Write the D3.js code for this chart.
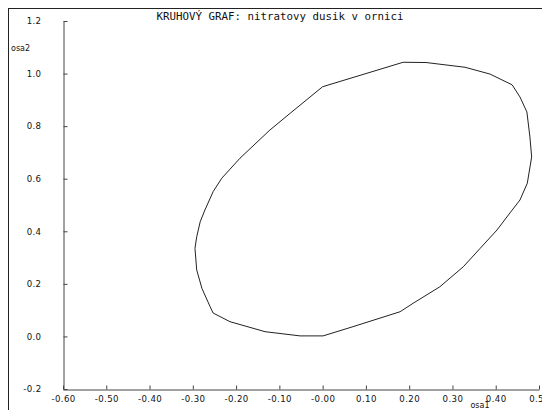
<!DOCTYPE html>
<html>
<head>
<meta charset="utf-8">
<script src="https://cdn.jsdelivr.net/npm/d3@7"></script>
<style>
  html, body { margin: 0; padding: 0; background: #fff; overflow: hidden; }
  svg { display: block; }
  .tick text { font-family: "DejaVu Sans", Verdana, sans-serif; font-size: 8.6px; letter-spacing: 0.4px; fill: #111; }
</style>
</head>
<body>
<svg id="chart" width="542" height="410"></svg>
<script>
// Closed outline (osa1, osa2), traced clockwise from the top-left corner
const osa1 = [0.00, 0.186, 0.239, 0.329, 0.387, 0.438, 0.456, 0.472, 0.479, 0.483,
              0.473, 0.456, 0.433, 0.403, 0.364, 0.325, 0.271, 0.209, 0.179, 0.070,
              0.001, -0.052, -0.133, -0.214, -0.253, -0.260, -0.279, -0.291, -0.295, -0.291,
              -0.283, -0.272, -0.253, -0.233, -0.191, -0.122, -0.075];
const osa2 = [0.950, 1.043, 1.042, 1.024, 0.998, 0.957, 0.911, 0.854, 0.759, 0.683,
              0.583, 0.519, 0.470, 0.405, 0.335, 0.265, 0.189, 0.126, 0.094, 0.037,
              0.002, 0.002, 0.018, 0.056, 0.089, 0.113, 0.183, 0.253, 0.335, 0.379,
              0.436, 0.481, 0.551, 0.602, 0.678, 0.785, 0.849];

const xTicks = [-0.6, -0.5, -0.4, -0.3, -0.2, -0.1, 0.0, 0.1, 0.2, 0.3, 0.4, 0.5];
const xTickLabels = ["-0.60", "-0.50", "-0.40", "-0.30", "-0.20", "-0.10", "-0.00",
                     "0.10", "0.20", "0.30", "0.40", "0.50"];
const yTicks = [1.2, 1.0, 0.8, 0.6, 0.4, 0.2, 0.0, -0.2];
const yTickLabels = ["1.2", "1.0", "0.8", "0.6", "0.4", "0.2", "0.0", "-0.2"];

const title = "KRUHOVÝ GRAF: nitratovy dusik v ornici";
const xName = "osa1";
const yName = "osa2";

const svg = d3.select("#chart");

// frame around the drawing area
svg.append("rect")
  .attr("x", 8.5).attr("y", 8.5)
  .attr("width", 600).attr("height", 500)
  .attr("fill", "none").attr("stroke", "#222").attr("stroke-width", 1);

const x = d3.scaleLinear().domain([-0.6, 0.5]).range([63, 539]);
const y = d3.scaleLinear().domain([-0.2, 1.2]).range([389, 21]);

// y axis, ticks pointing inward
const yAxis = svg.append("g")
  .attr("transform", "translate(63.5,0)")
  .call(d3.axisLeft(y)
    .tickValues(yTicks)
    .tickFormat((d, i) => yTickLabels[i])
    .tickSizeInner(-4).tickSizeOuter(0).tickPadding(22));

// x axis, ticks pointing inward
const xAxis = svg.append("g")
  .attr("transform", "translate(0,389.5)")
  .call(d3.axisBottom(x)
    .tickValues(xTicks)
    .tickFormat((d, i) => xTickLabels[i])
    .tickSizeInner(-4).tickSizeOuter(0).tickPadding(6));

[yAxis, xAxis].forEach(g => {
  g.select(".domain").attr("stroke", "#444");
  g.selectAll(".tick line").attr("stroke", "#444");
});

// outline
const pts = osa1.map((v, i) => [v, osa2[i]]);
svg.append("path")
  .datum(pts)
  .attr("d", d3.line().x(d => x(d[0])).y(d => y(d[1])).curve(d3.curveLinearClosed))
  .attr("fill", "none")
  .attr("stroke", "#222")
  .attr("stroke-width", 1);

// title and axis names
svg.append("text")
  .attr("x", 280).attr("y", 20)
  .attr("text-anchor", "middle")
  .style("font-family", "'DejaVu Sans Mono', 'Liberation Mono', monospace")
  .style("font-size", "10.8px")
  .attr("fill", "#111")
  .text(title);

svg.append("text")
  .attr("x", 11).attr("y", 51)
  .style("font-family", "'DejaVu Sans', sans-serif")
  .style("font-size", "8px")
  .attr("fill", "#111")
  .text(yName);

svg.append("text")
  .attr("x", 480).attr("y", 408)
  .attr("text-anchor", "middle")
  .style("font-family", "'DejaVu Sans', sans-serif")
  .style("font-size", "8px")
  .attr("fill", "#111")
  .text(xName);
</script>
</body>
</html>
